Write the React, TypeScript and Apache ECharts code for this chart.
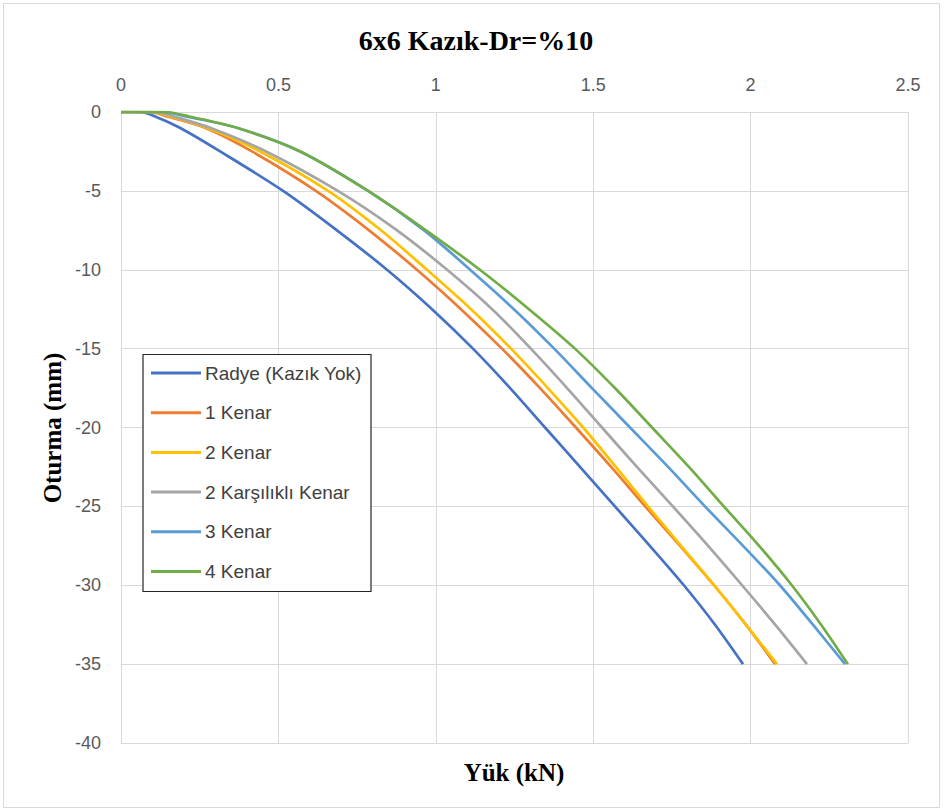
import React, { useEffect, useRef } from "react";
import * as echarts from "echarts";

// Settlement levels (mm) shared by all series
const settlement = [0, 0, -0.3, -1, -2.5, -5, -7.5, -10, -12.5, -15, -17.5, -20, -22.5, -25, -27.5, -30, -32.5, -35];

// Loads (kN) read at each settlement level
const radye = [0, 0.06, 0.11, 0.187, 0.315, 0.515, 0.686, 0.845, 0.988, 1.118, 1.236, 1.347, 1.458, 1.569, 1.68, 1.788, 1.887, 1.976];
const kenar1 = [0, 0.09, 0.15, 0.267, 0.416, 0.619, 0.788, 0.94, 1.08, 1.21, 1.331, 1.445, 1.557, 1.665, 1.776, 1.884, 1.985, 2.078];
const kenar2 = [0, 0.1, 0.16, 0.273, 0.442, 0.658, 0.826, 0.972, 1.112, 1.239, 1.356, 1.468, 1.572, 1.674, 1.779, 1.884, 1.985, 2.084];
const karsilikli = [0, 0.11, 0.17, 0.283, 0.461, 0.689, 0.877, 1.036, 1.179, 1.302, 1.417, 1.528, 1.639, 1.753, 1.865, 1.973, 2.078, 2.179];
const kenar3 = [0, 0.13, 0.21, 0.368, 0.569, 0.785, 0.963, 1.109, 1.248, 1.376, 1.496, 1.617, 1.738, 1.855, 1.976, 2.093, 2.198, 2.3];
const kenar4 = [0, 0.14, 0.22, 0.368, 0.569, 0.785, 0.969, 1.14, 1.296, 1.442, 1.569, 1.687, 1.804, 1.915, 2.027, 2.131, 2.224, 2.309];

const seriesNames = ["Radye (Kazık Yok)", "1 Kenar", "2 Kenar", "2 Karşılıklı Kenar", "3 Kenar", "4 Kenar"];
const seriesLoads = [radye, kenar1, kenar2, karsilikli, kenar3, kenar4];
const seriesColors = ["#4472C4", "#ED7D31", "#FFC000", "#A5A5A5", "#5B9BD5", "#70AD47"];

const xTicks = [0, 0.5, 1, 1.5, 2, 2.5];
const yTicks = [0, -5, -10, -15, -20, -25, -30, -35, -40];

export default function App() {
  const ref = useRef<HTMLDivElement>(null);
  useEffect(() => {
    document.body.style.margin = "0";
    const chart = echarts.init(ref.current!, null, { renderer: "svg" });
    const tickFont = "'Liberation Sans Narrow', 'Liberation Sans', sans-serif";
    chart.setOption({
      animation: false,
      backgroundColor: "#ffffff",
      grid: { left: 121, top: 112, right: 36, bottom: 69, containLabel: false },
      xAxis: {
        type: "value",
        position: "top",
        min: xTicks[0],
        max: xTicks[xTicks.length - 1],
        interval: 0.5,
        axisLine: { show: true, lineStyle: { color: "#D9D9D9", width: 1 } },
        axisTick: { show: false },
        splitLine: { show: true, lineStyle: { color: "#D9D9D9", width: 1 } },
        axisLabel: { color: "#595959", fontSize: 18, fontFamily: tickFont, margin: 18 },
      },
      yAxis: {
        type: "value",
        min: yTicks[yTicks.length - 1],
        max: yTicks[0],
        interval: 5,
        axisLine: { show: true, lineStyle: { color: "#D9D9D9", width: 1 } },
        axisTick: { show: false },
        splitLine: { show: true, lineStyle: { color: "#D9D9D9", width: 1 } },
        axisLabel: { color: "#595959", fontSize: 18, fontFamily: tickFont, margin: 20 },
      },
      legend: {
        show: true,
        orient: "vertical",
        left: 142,
        top: 354,
        padding: [9, 5, 5, 9],
        itemWidth: 50,
        itemHeight: 3,
        itemGap: 19.7,
        icon: "rect",
        borderWidth: 0,
        textStyle: {
          color: "#404040",
          fontSize: 19,
          lineHeight: 20,
          fontFamily: "'Liberation Sans', sans-serif",
          padding: [0, 0, 0, -1],
        },
        data: seriesNames,
      },
      graphic: [
        {
          type: "rect",
          silent: true,
          shape: { x: 3.5, y: 3.5, width: 936, height: 804 },
          style: { fill: "none", stroke: "#D9D9D9", lineWidth: 1 },
          z: -10,
        },
        {
          type: "rect",
          silent: true,
          shape: { x: 143, y: 354.5, width: 228, height: 237 },
          style: { fill: "#ffffff", stroke: "#262626", lineWidth: 1.2 },
          z: 1,
        },
        {
          type: "text",
          x: 476,
          y: 40,
          style: {
            text: "6x6 Kazık-Dr=%10",
            fill: "#000000",
            font: "bold 28px 'Liberation Serif', serif",
            textAlign: "center",
            textVerticalAlign: "middle",
          },
        },
        {
          type: "text",
          x: 514,
          y: 772,
          style: {
            text: "Yük (kN)",
            fill: "#000000",
            font: "bold 25px 'Liberation Serif', serif",
            textAlign: "center",
            textVerticalAlign: "middle",
          },
        },
        {
          type: "text",
          x: 52,
          y: 428,
          rotation: Math.PI / 2,
          style: {
            text: "Oturma (mm)",
            fill: "#000000",
            font: "bold 25px 'Liberation Serif', serif",
            textAlign: "center",
            textVerticalAlign: "middle",
          },
        },
      ],
      series: seriesNames.map((name, i) => ({
        name,
        type: "line",
        showSymbol: false,
        symbol: "none",
        smooth: 0.3,
        lineStyle: { color: seriesColors[i], width: 2.7 },
        itemStyle: { color: seriesColors[i] },
        data: seriesLoads[i].map((x, j) => [x, settlement[j]]),
        z: 2,
      })),
    });
    return () => chart.dispose();
  }, []);
  return <div ref={ref} style={{ width: 944, height: 812 }} />;
}
